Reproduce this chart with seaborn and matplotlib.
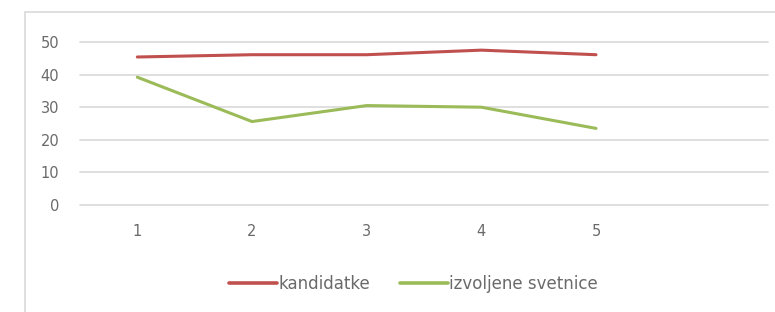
import numpy as np
import pandas as pd
from matplotlib import pyplot as plt
from matplotlib.patches import Rectangle
import seaborn as sns

# values
categories = [1, 2, 3, 4, 5]
kandidatke = [45.4, 46.1, 46.1, 47.5, 46.1]
izvoljene = [39.2, 25.6, 30.5, 30.0, 23.5]
series_names = ['kandidatke', 'izvoljene svetnice']
colors = ['#C0504D', '#9BBB59']

df = pd.DataFrame({'x': categories * 2,
                   'value': kandidatke + izvoljene,
                   'serie': [series_names[0]] * 5 + [series_names[1]] * 5})

sns.set_style('white')
plt.rcParams['font.family'] = ['DejaVu Sans']

fig = plt.figure(figsize=(7.75, 3.12), dpi=100)
ax = fig.add_axes([80 / 775, 1 - 205 / 312, 688 / 775, 163 / 312])

# chart frame
fig.patches.append(Rectangle((25 / 775, -0.1), 1.0, 1 - 12 / 312 + 0.1,
                             transform=fig.transFigure, fill=False,
                             edgecolor='#d9d9d9', lw=1.2))

sns.lineplot(data=df, x='x', y='value', hue='serie', palette=colors,
             linewidth=2.2, ax=ax, legend=False)

ax.set_xlim(0.5, 6.5)
ax.set_ylim(0, 50)
ax.set_xticks(categories)
ax.set_yticks(np.arange(0, 51, 10))
ax.grid(axis='y', color='#d9d9d9', lw=1.2)
for gl in ax.get_ygridlines():
    gl.set_clip_on(False)
ax.set_axisbelow(True)
for s in ax.spines.values():
    s.set_visible(False)
ax.tick_params(axis='y', length=0, pad=15, labelsize=10.5, labelcolor='#6a6a6a')
ax.tick_params(axis='x', length=0, pad=14, labelsize=10.5, labelcolor='#6a6a6a')
ax.set_xlabel('')
ax.set_ylabel('')

handles = [plt.Line2D([], [], color=c, lw=2.6) for c in colors]
fig.legend(handles, series_names, loc='center left', bbox_to_anchor=(229 / 775, 1 - 284 / 312),
           ncol=2, frameon=False, borderpad=0, borderaxespad=0, handlelength=2.9,
           handletextpad=0.06, columnspacing=1.8, prop={'size': 12}, labelcolor='#6a6a6a')

fig.savefig('out.png', dpi=100)
